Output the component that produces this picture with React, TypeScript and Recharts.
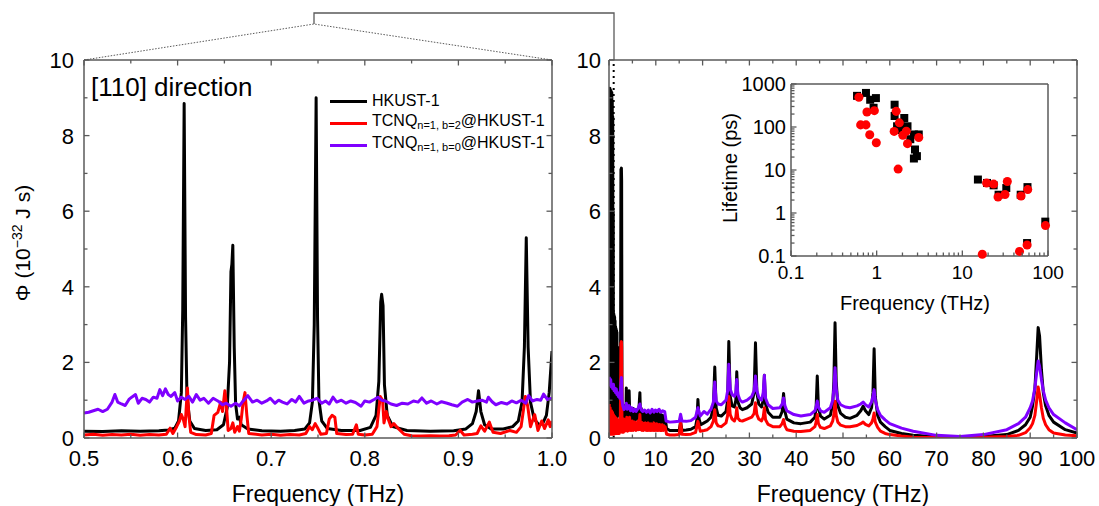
import React from "react";
import { LineChart, Line, XAxis, YAxis, ReferenceLine, ScatterChart, Scatter, ZAxis } from "recharts";

// ---- data ---------------------------------------------------------------

// left panel, [110] direction, 0.5–1.0 THz  ([frequency THz, Φ])
const leftHkust = [
  [0.5, 0.18], [0.52, 0.17], [0.54, 0.19], [0.56, 0.18], [0.58, 0.19], [0.59, 0.21], [0.597, 0.26],
  [0.601, 0.45], [0.604, 1.2], [0.6055, 3.4], [0.607, 8.85], [0.6085, 3.2], [0.61, 1.1], [0.613, 0.45],
  [0.618, 0.25], [0.63, 0.2], [0.642, 0.22], [0.649, 0.35], [0.653, 0.8], [0.6555, 2.0], [0.657, 4.4],
  [0.658, 4.6], [0.659, 5.1], [0.6605, 2.4], [0.662, 0.9], [0.664, 0.5], [0.666, 0.55], [0.668, 0.35],
  [0.675, 0.24], [0.69, 0.19], [0.71, 0.18], [0.725, 0.2], [0.736, 0.24], [0.741, 0.4], [0.744, 0.95],
  [0.746, 3.0], [0.748, 9.0], [0.7495, 3.2], [0.751, 1.0], [0.754, 0.45], [0.76, 0.25], [0.775, 0.2],
  [0.795, 0.2], [0.806, 0.28], [0.812, 0.6], [0.815, 1.5], [0.817, 3.6], [0.818, 3.8], [0.8195, 3.5],
  [0.821, 1.4], [0.824, 0.6], [0.83, 0.3], [0.845, 0.2], [0.87, 0.18], [0.895, 0.19], [0.908, 0.24],
  [0.915, 0.38], [0.919, 0.7], [0.9215, 1.25], [0.924, 0.7], [0.928, 0.35], [0.935, 0.24], [0.948, 0.24],
  [0.958, 0.3], [0.964, 0.45], [0.968, 0.95], [0.9705, 2.4], [0.9725, 5.3], [0.9745, 2.4], [0.977, 0.95],
  [0.981, 0.5], [0.986, 0.35], [0.99, 0.38], [0.994, 0.6], [0.997, 1.2], [1.0, 2.3],
];

const leftB2 = [
  [0.5, 0.08], [0.51, 0.1], [0.52, 0.07], [0.53, 0.09], [0.54, 0.08], [0.55, 0.1], [0.56, 0.07], [0.57, 0.09],
  [0.58, 0.08], [0.588, 0.1], [0.592, 0.26], [0.595, 0.12], [0.599, 0.3], [0.602, 0.45], [0.604, 0.62],
  [0.606, 0.5], [0.608, 0.3], [0.6105, 1.32], [0.612, 0.6], [0.614, 0.15], [0.62, 0.09], [0.63, 0.08],
  [0.636, 0.12], [0.639, 0.6], [0.643, 0.68], [0.646, 0.95], [0.648, 0.7], [0.6505, 1.25], [0.652, 0.9],
  [0.654, 0.2], [0.657, 0.25], [0.659, 0.4], [0.661, 0.15], [0.664, 0.3], [0.666, 0.18], [0.668, 0.5],
  [0.67, 0.95], [0.672, 1.2], [0.674, 0.6], [0.676, 0.12], [0.69, 0.08], [0.7, 0.1], [0.71, 0.07], [0.72, 0.09],
  [0.73, 0.08], [0.737, 0.12], [0.741, 0.3], [0.744, 0.22], [0.747, 0.38], [0.75, 0.25], [0.753, 0.1],
  [0.759, 0.12], [0.762, 0.5], [0.765, 0.6], [0.768, 0.55], [0.77, 0.12], [0.78, 0.09], [0.787, 0.1],
  [0.791, 0.35], [0.793, 0.1], [0.8, 0.08], [0.808, 0.1], [0.813, 0.3], [0.8165, 1.1], [0.819, 1.0],
  [0.8205, 0.4], [0.823, 0.7], [0.825, 0.5], [0.828, 0.3], [0.831, 0.38], [0.834, 0.3], [0.837, 0.22],
  [0.842, 0.1], [0.85, 0.06], [0.86, 0.05], [0.87, 0.06], [0.88, 0.05], [0.89, 0.06], [0.897, 0.08],
  [0.902, 0.2], [0.906, 0.08], [0.915, 0.1], [0.92, 0.12], [0.924, 0.32], [0.928, 0.18], [0.933, 0.42],
  [0.937, 0.15], [0.945, 0.12], [0.955, 0.2], [0.962, 0.15], [0.967, 0.3], [0.9715, 1.1], [0.974, 0.85],
  [0.977, 0.3], [0.9815, 0.62], [0.985, 0.2], [0.989, 0.45], [0.992, 0.25], [0.996, 0.48], [0.998, 0.3],
  [1.0, 0.45],
];

const leftB0 = [
  [0.5, 0.66], [0.505, 0.68], [0.51, 0.72], [0.515, 0.76], [0.52, 0.7], [0.525, 0.76], [0.53, 0.95],
  [0.533, 1.15], [0.536, 0.95], [0.54, 0.9], [0.544, 0.86], [0.548, 1.02], [0.551, 1.08], [0.555, 1.15],
  [0.558, 0.92], [0.562, 1.05], [0.566, 1.02], [0.57, 0.95], [0.574, 1.08], [0.578, 1.05], [0.581, 1.28],
  [0.584, 1.12], [0.587, 1.3], [0.59, 1.15], [0.593, 1.1], [0.597, 1.2], [0.6, 0.98], [0.604, 1.08],
  [0.608, 1.02], [0.612, 1.1], [0.616, 0.95], [0.62, 1.15], [0.624, 1.0], [0.628, 1.05], [0.633, 0.92],
  [0.638, 1.05], [0.643, 0.98], [0.648, 0.88], [0.652, 0.92], [0.657, 0.84], [0.662, 0.92], [0.666, 0.85],
  [0.67, 0.98], [0.675, 1.12], [0.68, 0.95], [0.685, 1.0], [0.69, 0.92], [0.695, 0.98], [0.699, 1.05],
  [0.704, 0.92], [0.708, 1.0], [0.712, 0.95], [0.717, 0.9], [0.722, 1.02], [0.726, 0.95], [0.73, 1.1],
  [0.735, 0.92], [0.74, 0.98], [0.744, 1.0], [0.749, 1.05], [0.754, 0.92], [0.758, 0.98], [0.762, 0.9],
  [0.766, 1.08], [0.77, 0.95], [0.775, 1.0], [0.78, 0.92], [0.785, 0.98], [0.79, 0.94], [0.796, 0.84],
  [0.8, 0.98], [0.805, 0.95], [0.81, 1.02], [0.814, 1.08], [0.818, 1.0], [0.822, 0.98], [0.828, 0.9],
  [0.834, 0.86], [0.84, 0.92], [0.846, 0.9], [0.852, 0.98], [0.857, 0.95], [0.861, 1.06], [0.866, 0.92],
  [0.871, 0.98], [0.877, 0.9], [0.882, 0.96], [0.888, 0.92], [0.893, 0.88], [0.899, 0.84], [0.904, 0.95],
  [0.91, 1.02], [0.915, 0.95], [0.92, 0.98], [0.925, 1.0], [0.93, 0.95], [0.932, 1.08], [0.936, 0.96],
  [0.94, 0.88], [0.946, 0.94], [0.952, 0.9], [0.957, 0.98], [0.962, 0.93], [0.967, 1.0], [0.972, 0.92],
  [0.975, 1.12], [0.979, 0.98], [0.984, 1.02], [0.988, 1.0], [0.991, 1.16], [0.995, 1.02], [1.0, 1.05],
];

// right panel, full spectrum 0–100 THz (dense, noisy band below ~12 THz)
const rightHkust = [
  [0.05, 1.5], [0.1, 9.2], [0.15, 0.6], [0.2, 9.25], [0.25, 0.55], [0.3, 9.1], [0.35, 0.6], [0.4, 9.2],
  [0.45, 0.65], [0.5, 9.0], [0.55, 0.6], [0.6, 9.15], [0.65, 0.6], [0.7, 8.9], [0.75, 0.55], [0.8, 8.5],
  [0.85, 0.6], [0.9, 6.0], [0.95, 0.6], [1.0, 3.3], [1.05, 0.55], [1.1, 3.25], [1.15, 0.6], [1.2, 3.2],
  [1.25, 0.6], [1.3, 3.1], [1.35, 0.55], [1.4, 2.95], [1.45, 0.6], [1.5, 2.9], [1.55, 0.6], [1.6, 2.85],
  [1.65, 0.6], [1.7, 2.8], [1.75, 0.55], [1.8, 2.4], [1.85, 0.6], [1.9, 2.4], [1.95, 0.6], [2.0, 2.35],
  [2.05, 0.6], [2.1, 2.3], [2.15, 0.6], [2.2, 1.5], [2.25, 0.6], [2.3, 1.45], [2.35, 0.6], [2.4, 1.2],
  [2.45, 0.6], [2.55, 7.1], [2.65, 7.14], [2.7, 6.8], [2.78, 0.6], [2.9, 0.9], [3.0, 0.55], [3.15, 0.85],
  [3.3, 0.5], [3.45, 0.8], [3.6, 0.55], [3.7, 1.32], [3.8, 0.55], [3.95, 0.85], [4.1, 0.5], [4.3, 1.25],
  [4.45, 0.5], [4.6, 0.8], [4.75, 0.5], [4.9, 0.75], [5.05, 0.48], [5.2, 0.78], [5.35, 0.5], [5.5, 0.7],
  [5.65, 0.48], [5.8, 0.75], [5.95, 0.5], [6.1, 0.72], [6.25, 0.5], [6.4, 0.8], [6.6, 1.2], [6.75, 0.5],
  [6.9, 0.78], [7.05, 0.48], [7.2, 0.7], [7.35, 0.45], [7.5, 0.68], [7.65, 0.45], [7.8, 0.7], [7.95, 0.45],
  [8.1, 0.66], [8.25, 0.42], [8.4, 0.68], [8.55, 0.44], [8.7, 0.65], [8.85, 0.42], [9.0, 0.7], [9.15, 0.42],
  [9.3, 0.64], [9.45, 0.4], [9.6, 0.66], [9.75, 0.42], [9.9, 0.7], [10.05, 0.4], [10.2, 0.62], [10.35, 0.4],
  [10.5, 0.66], [10.65, 0.4], [10.8, 0.6], [10.95, 0.38], [11.1, 0.62], [11.25, 0.38], [11.4, 0.6], [11.55, 0.38],
  [11.7, 0.58], [11.85, 0.4], [12.0, 0.55], [12.3, 0.25],
  [13, 0.2], [14, 0.2], [15, 0.2], [15.3, 0.42], [15.6, 0.2], [16.5, 0.21], [17.5, 0.23], [18.5, 0.3],
  [18.8, 0.5], [19.0, 1.02], [19.25, 0.5], [19.6, 0.35], [20.3, 0.4], [21, 0.45], [21.8, 0.55], [22.3, 0.8],
  [22.6, 1.88], [22.9, 0.8], [23.3, 0.6], [24, 0.58], [25, 0.7], [25.35, 1.0], [25.6, 2.55], [25.9, 1.1],
  [26.3, 0.85], [26.8, 0.82], [27.1, 1.0], [27.3, 1.75], [27.55, 0.95], [28, 0.8], [28.5, 0.75], [29.5, 0.8],
  [30.5, 0.9], [31.0, 1.2], [31.3, 2.52], [31.6, 1.2], [32.0, 0.9], [32.6, 0.82], [32.95, 1.0], [33.2, 1.66],
  [33.45, 0.9], [34, 0.68], [35, 0.55], [36.5, 0.55], [37.0, 0.7], [37.3, 1.18], [37.6, 0.7], [38, 0.5],
  [39.5, 0.4], [41, 0.38], [43, 0.42], [44, 0.55], [44.25, 0.8], [44.5, 1.64], [44.75, 0.8], [45.2, 0.58],
  [46, 0.5], [47.3, 0.6], [47.8, 0.9], [48.05, 1.5], [48.3, 3.05], [48.55, 1.5], [48.9, 0.85], [49.5, 0.65],
  [50.5, 0.55], [51.5, 0.52], [53, 0.6], [53.8, 0.72], [54.3, 0.84], [54.8, 0.72], [55.5, 0.62], [56.1, 0.8],
  [56.4, 1.2], [56.65, 2.36], [56.9, 1.1], [57.4, 0.6], [58, 0.42], [59, 0.3], [60, 0.2], [62.5, 0.12],
  [65, 0.07], [70, 0.03], [75, 0.03], [80, 0.04], [85, 0.09], [87.5, 0.2], [89, 0.35], [90, 0.55],
  [90.5, 0.85], [91.0, 1.3], [91.4, 2.2], [91.7, 2.92], [92.0, 2.7], [92.4, 1.8], [92.8, 1.2], [93.3, 0.85],
  [94, 0.6], [95, 0.42], [97.5, 0.22], [100, 0.13],
];

const rightB2 = [
  [0.05, 0.9], [0.1, 0.1], [0.15, 0.75], [0.2, 0.12], [0.25, 0.8], [0.3, 0.1], [0.35, 0.7], [0.4, 0.12],
  [0.45, 0.65], [0.5, 0.1], [0.55, 0.72], [0.6, 0.12], [0.65, 0.6], [0.7, 0.1], [0.75, 0.68], [0.8, 0.12],
  [0.85, 0.55], [0.9, 0.1], [0.95, 0.62], [1.0, 0.12], [1.05, 0.5], [1.1, 0.1], [1.15, 0.58], [1.2, 0.12],
  [1.25, 0.5], [1.3, 0.14], [1.35, 0.55], [1.4, 0.12], [1.45, 0.48], [1.5, 0.14], [1.55, 0.52], [1.6, 0.12],
  [1.65, 0.45], [1.7, 0.14], [1.75, 0.5], [1.8, 0.12], [1.85, 0.42], [1.9, 0.15], [1.95, 0.48], [2.0, 0.12],
  [2.05, 0.4], [2.1, 0.15], [2.15, 0.45], [2.2, 0.12], [2.25, 0.4], [2.3, 0.15], [2.35, 0.42], [2.4, 0.15],
  [2.55, 2.5], [2.65, 2.55], [2.7, 2.4], [2.78, 0.15], [2.9, 0.45], [3.05, 0.15], [3.2, 0.5], [3.35, 0.18],
  [3.5, 0.45], [3.65, 0.2], [3.8, 0.55], [3.95, 0.18], [4.1, 0.45], [4.25, 0.2], [4.4, 0.55], [4.55, 0.2],
  [4.7, 0.42], [4.85, 0.2], [5.0, 0.45], [5.15, 0.2], [5.3, 0.4], [5.45, 0.22], [5.6, 0.42], [5.75, 0.2],
  [5.9, 0.4], [6.05, 0.22], [6.2, 0.45], [6.35, 0.22], [6.6, 0.62], [6.75, 0.22], [6.9, 0.42], [7.05, 0.2],
  [7.2, 0.4], [7.35, 0.2], [7.5, 0.38], [7.65, 0.22], [7.8, 0.4], [7.95, 0.2], [8.1, 0.38], [8.25, 0.2],
  [8.4, 0.4], [8.55, 0.2], [8.7, 0.36], [8.85, 0.2], [9.0, 0.38], [9.15, 0.2], [9.3, 0.36], [9.45, 0.2],
  [9.6, 0.4], [9.75, 0.2], [9.9, 0.36], [10.05, 0.2], [10.2, 0.38], [10.35, 0.2], [10.5, 0.35], [10.65, 0.2],
  [10.8, 0.36], [10.95, 0.2], [11.1, 0.34], [11.25, 0.2], [11.4, 0.35], [11.55, 0.2], [11.7, 0.32], [11.85, 0.22],
  [12.0, 0.3], [12.3, 0.1], [13, 0.08], [14, 0.08], [15, 0.09], [15.3, 0.44], [15.6, 0.1], [16.5, 0.09],
  [17.5, 0.1], [18.5, 0.15], [19.0, 0.44], [19.5, 0.18], [20.3, 0.2], [21, 0.22], [21.8, 0.3], [22.3, 0.45],
  [22.6, 0.75], [22.9, 0.4], [23.3, 0.32], [24, 0.3], [25, 0.4], [25.35, 0.6], [25.6, 1.1], [25.9, 0.62],
  [26.3, 0.5], [26.8, 0.45], [27.1, 0.55], [27.3, 0.8], [27.55, 0.52], [28, 0.46], [28.5, 0.45], [29.5, 0.5],
  [30.5, 0.55], [31.0, 0.65], [31.3, 0.93], [31.6, 0.62], [32, 0.5], [32.6, 0.45], [32.95, 0.55], [33.2, 0.8],
  [33.45, 0.48], [34, 0.36], [35, 0.3], [36.5, 0.3], [37, 0.38], [37.3, 0.49], [37.6, 0.32], [38, 0.22],
  [39.5, 0.18], [41, 0.17], [43, 0.2], [44, 0.3], [44.25, 0.42], [44.5, 0.62], [44.75, 0.38], [45.2, 0.28],
  [46, 0.25], [47.3, 0.32], [47.8, 0.45], [48.05, 0.62], [48.3, 0.97], [48.55, 0.6], [48.9, 0.42], [49.5, 0.34],
  [50.5, 0.3], [51.5, 0.3], [53, 0.33], [53.8, 0.38], [54.3, 0.42], [54.8, 0.36], [55.5, 0.32], [56.1, 0.4],
  [56.4, 0.5], [56.65, 0.66], [56.9, 0.42], [57.4, 0.28], [58, 0.18], [59, 0.12], [60, 0.09], [62.5, 0.05],
  [65, 0.02], [70, 0.01], [75, 0.01], [80, 0.02], [85, 0.04], [87.5, 0.07], [89, 0.14], [90, 0.27],
  [90.5, 0.38], [91, 0.6], [91.4, 1.0], [91.7, 1.35], [92, 1.15], [92.4, 0.8], [92.8, 0.52], [93.3, 0.35],
  [94, 0.22], [95, 0.13], [97.5, 0.08], [100, 0.06],
];

const rightB0 = [
  [0.05, 1.62], [0.2, 1.4], [0.35, 1.55], [0.5, 1.35], [0.65, 1.42], [0.8, 1.3], [0.95, 1.42], [1.1, 1.25],
  [1.25, 1.32], [1.4, 1.2], [1.55, 1.3], [1.7, 1.15], [1.85, 1.2], [2.0, 1.1], [2.15, 1.15], [2.3, 1.05],
  [2.55, 1.45], [2.65, 1.6], [2.78, 1.0], [2.95, 0.85], [3.2, 0.75], [3.5, 0.8], [3.7, 0.92], [3.9, 0.76],
  [4.3, 0.86], [4.6, 0.72], [4.9, 0.8], [5.2, 0.7], [5.5, 0.76], [5.8, 0.7], [6.2, 0.78], [6.6, 0.9],
  [6.9, 0.74], [7.2, 0.7], [7.6, 0.74], [8, 0.68], [8.4, 0.74], [8.8, 0.66], [9.2, 0.76], [9.6, 0.68],
  [9.9, 0.74], [10.3, 0.7], [10.7, 0.76], [11.1, 0.68], [11.5, 0.72], [11.9, 0.7], [12.2, 0.45], [13, 0.42],
  [14, 0.43], [15, 0.44], [15.3, 0.63], [15.6, 0.45], [16.5, 0.44], [17.5, 0.46], [18.5, 0.55], [19, 0.8],
  [19.5, 0.58], [20.3, 0.7], [21, 0.63], [21.8, 0.76], [22.3, 0.95], [22.6, 1.48], [22.9, 0.98], [23.3, 0.9],
  [24, 0.88], [25, 1.0], [25.35, 1.25], [25.6, 1.95], [25.9, 1.3], [26.3, 1.15], [26.8, 1.1], [27.1, 1.2],
  [27.3, 1.55], [27.55, 1.15], [28, 1.0], [28.5, 0.95], [29.5, 1.0], [30.5, 1.1], [31.0, 1.25], [31.3, 1.64],
  [31.6, 1.25], [32, 1.08], [32.6, 1.0], [32.95, 1.2], [33.2, 1.66], [33.45, 1.05], [34, 0.88], [35, 0.78],
  [36.5, 0.8], [37, 0.9], [37.3, 1.06], [37.6, 0.85], [38, 0.72], [39.5, 0.62], [41, 0.58], [43, 0.62],
  [44, 0.72], [44.25, 0.82], [44.5, 0.98], [44.75, 0.82], [45.2, 0.72], [46, 0.68], [47.3, 0.8], [47.8, 1.0],
  [48.05, 1.3], [48.3, 1.86], [48.55, 1.3], [48.9, 1.0], [49.5, 0.88], [50.5, 0.82], [51.5, 0.8], [53, 0.85],
  [53.8, 0.9], [54.3, 0.95], [54.8, 0.88], [55.5, 0.82], [56.1, 0.95], [56.4, 1.1], [56.65, 1.28], [56.9, 1.0],
  [57.4, 0.75], [58, 0.6], [59, 0.48], [60, 0.38], [62.5, 0.26], [65, 0.18], [70, 0.07], [75, 0.04],
  [80, 0.09], [85, 0.22], [87.5, 0.38], [89, 0.55], [90, 0.8], [90.5, 0.98], [91, 1.33], [91.4, 1.75],
  [91.7, 2.04], [92, 1.9], [92.4, 1.55], [92.8, 1.25], [93.3, 1.0], [94, 0.8], [95, 0.62], [97.5, 0.4],
  [100, 0.22],
];

// inset: phonon lifetime (ps) vs frequency (THz)
const lifetimeHkust = [
  [0.59, 530], [0.75, 620], [0.84, 430], [0.98, 470], [0.92, 280], [1.62, 330], [1.62, 180], [1.73, 104],
  [1.89, 115], [1.94, 85], [2.1, 162], [2.29, 104], [2.47, 52], [2.72, 67], [3.1, 67], [2.8, 30],
  [2.95, 21], [2.72, 18.5], [15.2, 6.0], [19.4, 5.0], [23.2, 4.4], [26.5, 2.66], [32.6, 3.8], [48, 2.66],
  [57.6, 4.0], [93, 0.63], [57, 0.2],
];

const lifetimeB2 = [
  [0.62, 493], [0.65, 112], [0.75, 112], [0.77, 223], [0.83, 66], [0.94, 240], [0.99, 43], [1.6, 79],
  [1.69, 231], [1.84, 125], [1.78, 10.5], [2.02, 64], [2.22, 80], [2.29, 41], [3.1, 57], [19.2, 5.0],
  [23.2, 4.7], [26.1, 2.35], [31.5, 2.7], [33.5, 5.4], [48.5, 2.48], [58, 3.5], [93.5, 0.51], [17.1, 0.11],
  [46.5, 0.128], [57, 0.18],
];

// tick positions
const leftXTicks = [0.5, 0.55, 0.6, 0.65, 0.7, 0.75, 0.8, 0.85, 0.9, 0.95, 1.0];
const leftXLabels = [0.5, 0.6, 0.7, 0.8, 0.9, 1.0];
const rightXTicks = [0, 5, 10, 15, 20, 25, 30, 35, 40, 45, 50, 55, 60, 65, 70, 75, 80, 85, 90, 95, 100];
const rightXLabels = [0, 10, 20, 30, 40, 50, 60, 70, 80, 90, 100];
const phiTicks = [0, 1, 2, 3, 4, 5, 6, 7, 8, 9, 10];
const phiLabels = [0, 2, 4, 6, 8, 10];
const insetXTicks = [0.1, 0.2, 0.3, 0.4, 0.5, 0.6, 0.7, 0.8, 0.9, 1, 2, 3, 4, 5, 6, 7, 8, 9, 10, 20, 30, 40, 50, 60, 70, 80, 90, 100];
const insetXLabels = [0.1, 1, 10, 100];
const insetYTicks = [0.1, 0.2, 0.3, 0.4, 0.5, 0.6, 0.7, 0.8, 0.9, 1, 2, 3, 4, 5, 6, 7, 8, 9, 10, 20, 30, 40, 50, 60, 70, 80, 90, 100, 200, 300, 400, 500, 600, 700, 800, 900, 1000];
const insetYLabels = [0.1, 1, 10, 100, 1000];

// ---- styling --------------------------------------------------------------

const FONT = "'Liberation Sans', Arial, Helvetica, sans-serif";
const FRAME = "#5a5a5a";
const C_HKUST = "#000000";
const C_B2 = "#ff0000";
const C_B0 = "#7f00ff";

const pts = (arr: number[][]) => arr.map(([f, v]) => ({ f, v }));

type Side = "bottom" | "top" | "left" | "right";

// inward tick marks (longer on labelled values) plus the label itself
function makeTick(side: Side, majors: number[], labels: boolean, fontSize = 22, gap = 6, fmt = (v: number) => String(v)) {
  return (props: any) => {
    const { x, y, payload } = props;
    const v = Number(payload.value);
    const major = majors.some((m) => Math.abs(m - v) < 1e-6 * Math.max(1, Math.abs(m)));
    const len = major ? 5.5 : 3.5;
    const dx = side === "left" ? len : side === "right" ? -len : 0;
    const dy = side === "bottom" ? -len : side === "top" ? len : 0;
    let label = null;
    if (labels && major && side === "bottom") {
      label = (
        <text x={x} y={y + fontSize + gap} textAnchor="middle" fontSize={fontSize} fontFamily={FONT} fill="#000">
          {fmt(v)}
        </text>
      );
    }
    if (labels && major && side === "left") {
      label = (
        <text x={x - gap} y={y + fontSize * 0.36} textAnchor="end" fontSize={fontSize} fontFamily={FONT} fill="#000">
          {fmt(v)}
        </text>
      );
    }
    return (
      <g>
        <line x1={x} y1={y} x2={x + dx} y2={y + dy} stroke={FRAME} strokeWidth={1.3} />
        {label}
      </g>
    );
  };
}

const axisLine = { stroke: FRAME, strokeWidth: 1.5 };
const lineProps = {
  xAxisId: "b",
  yAxisId: "l",
  dataKey: "v",
  type: "linear" as const,
  dot: false,
  strokeWidth: 3,
  strokeLinejoin: "round" as const,
  isAnimationActive: false,
};

const LEGEND = [
  { color: C_HKUST, name: "HKUST-1", sub: "", tail: "" },
  { color: C_B2, name: "TCNQ", sub: "n=1, b=2", tail: "@HKUST-1" },
  { color: C_B0, name: "TCNQ", sub: "n=1, b=0", tail: "@HKUST-1" },
];

export default function App() {
  const fmt1 = (v: number) => v.toFixed(1);
  return (
    <div style={{ position: "absolute", left: 0, top: 0, width: 1099, height: 506, background: "#fff", fontFamily: FONT, overflow: "hidden" }}>
      {/* left panel: zoom on 0.5–1 THz */}
      <div style={{ position: "absolute", left: 0, top: 0 }}>
        <LineChart width={580} height={506} margin={{ top: 55, right: 26, bottom: 0, left: 0 }}>
          <XAxis xAxisId="b" type="number" dataKey="f" domain={[0.5, 1]} allowDataOverflow ticks={leftXTicks} interval={0}
            height={68} tickSize={0} tickMargin={0} tickLine={false} axisLine={axisLine} tick={makeTick("bottom", leftXLabels, true, 22, 6, fmt1)} />
          <XAxis xAxisId="t" orientation="top" type="number" dataKey="f" domain={[0.5, 1]} allowDataOverflow ticks={leftXTicks} interval={0}
            height={5} tickSize={0} tickMargin={0} tickLine={false} axisLine={axisLine} tick={makeTick("top", leftXLabels, false)} />
          <YAxis yAxisId="l" type="number" domain={[0, 10]} allowDataOverflow ticks={phiTicks} interval={0}
            width={84} tickSize={0} tickMargin={0} tickLine={false} axisLine={axisLine} tick={makeTick("left", phiLabels, true, 22, 10)} />
          <YAxis yAxisId="r" orientation="right" type="number" domain={[0, 10]} allowDataOverflow ticks={phiTicks} interval={0}
            width={2} tickSize={0} tickMargin={0} tickLine={false} axisLine={axisLine} tick={makeTick("right", phiLabels, false)} />
          <Line {...lineProps} data={pts(leftHkust)} stroke={C_HKUST} name="HKUST-1" />
          <Line {...lineProps} data={pts(leftB2)} stroke={C_B2} name="b2" />
          <Line {...lineProps} data={pts(leftB0)} stroke={C_B0} name="b0" />
        </LineChart>
      </div>

      {/* right panel: full range */}
      <div style={{ position: "absolute", left: 560, top: 0 }}>
        <LineChart width={539} height={506} margin={{ top: 55, right: 20, bottom: 0, left: 0 }}>
          <XAxis xAxisId="b" type="number" dataKey="f" domain={[0, 100]} allowDataOverflow ticks={rightXTicks} interval={0}
            height={68} tickSize={0} tickMargin={0} tickLine={false} axisLine={axisLine} tick={makeTick("bottom", rightXLabels, true, 22, 6)} />
          <XAxis xAxisId="t" orientation="top" type="number" dataKey="f" domain={[0, 100]} allowDataOverflow ticks={rightXTicks} interval={0}
            height={5} tickSize={0} tickMargin={0} tickLine={false} axisLine={axisLine} tick={makeTick("top", rightXLabels, false)} />
          <YAxis yAxisId="l" type="number" domain={[0, 10]} allowDataOverflow ticks={phiTicks} interval={0}
            width={49} tickSize={0} tickMargin={0} tickLine={false} axisLine={axisLine} tick={makeTick("left", phiLabels, true, 22, 8)} />
          <YAxis yAxisId="r" orientation="right" type="number" domain={[0, 10]} allowDataOverflow ticks={phiTicks} interval={0}
            width={2} tickSize={0} tickMargin={0} tickLine={false} axisLine={axisLine} tick={makeTick("right", phiLabels, false)} />
          <ReferenceLine xAxisId="b" yAxisId="l" x={1} stroke="#000" strokeWidth={2} strokeDasharray="2 4" />
          <Line {...lineProps} data={pts(rightHkust)} stroke={C_HKUST} name="HKUST-1" />
          <Line {...lineProps} data={pts(rightB2)} stroke={C_B2} name="b2" />
          <Line {...lineProps} data={pts(rightB0)} stroke={C_B0} name="b0" />
        </LineChart>
      </div>

      {/* inset: lifetimes, log–log */}
      <div style={{ position: "absolute", left: 700, top: 70 }}>
        <ScatterChart width={370} height={250} margin={{ top: 9, right: 20, bottom: 24, left: 31 }}>
          <XAxis xAxisId="b" type="number" dataKey="f" scale="log" domain={[0.1, 100]} ticks={insetXTicks} interval={0}
            height={40} tickSize={0} tickMargin={0} tickLine={false} axisLine={axisLine} tick={makeTick("bottom", insetXLabels, true, 19, 4)} />
          <XAxis xAxisId="t" orientation="top" type="number" dataKey="f" scale="log" domain={[0.1, 100]} ticks={insetXTicks} interval={0}
            height={5} tickSize={0} tickMargin={0} tickLine={false} axisLine={axisLine} tick={makeTick("top", insetXLabels, false)} />
          <YAxis yAxisId="l" type="number" dataKey="t" scale="log" domain={[0.1, 1000]} ticks={insetYTicks} interval={0}
            width={60} tickSize={0} tickMargin={0} tickLine={false} axisLine={axisLine} tick={makeTick("left", insetYLabels, true, 20, 5)} />
          <YAxis yAxisId="r" orientation="right" type="number" dataKey="t" scale="log" domain={[0.1, 1000]} ticks={insetYTicks} interval={0}
            width={2} tickSize={0} tickMargin={0} tickLine={false} axisLine={axisLine} tick={makeTick("right", insetYLabels, false)} />
          <ZAxis range={[48, 48]} />
          <Scatter xAxisId="b" yAxisId="l" data={lifetimeHkust.map(([f, t]) => ({ f, t }))} fill={C_HKUST} shape="square" isAnimationActive={false} />
          <Scatter xAxisId="b" yAxisId="l" data={lifetimeB2.map(([f, t]) => ({ f, t }))} fill={C_B2} shape="circle" isAnimationActive={false} />
        </ScatterChart>
      </div>

      {/* legend */}
      <div style={{ position: "absolute", left: 330, top: 90, fontSize: 16, color: "#000", lineHeight: "20px" }}>
        {LEGEND.map((it, i) => (
          <div key={i} style={{ display: "flex", alignItems: "center", height: 22, whiteSpace: "nowrap" }}>
            <span style={{ display: "inline-block", width: 37, height: 3, background: it.color, marginRight: 5 }} />
            <span>
              {it.name}
              {it.sub && <sub style={{ fontSize: 11, verticalAlign: "-3px" }}>{it.sub}</sub>}
              {it.tail}
            </span>
          </div>
        ))}
      </div>

      {/* titles and zoom connector */}
      <svg width={1099} height={506} style={{ position: "absolute", left: 0, top: 0, pointerEvents: "none" }} fontFamily={FONT}>
        <polyline points="84,60 314,24 552,60" fill="none" stroke={FRAME} strokeWidth={1} strokeDasharray="1.5 1.5" />
        <polyline points="314,24 314,13 614,13 614,60" fill="none" stroke={FRAME} strokeWidth={1.3} />
        <text x={91} y={96} fontSize={26} fill="#000">[110] direction</text>
        <text x={318} y={502} fontSize={23} textAnchor="middle" fill="#000">Frequency (THz)</text>
        <text x={843} y={502} fontSize={23} textAnchor="middle" fill="#000">Frequency (THz)</text>
        <text transform="translate(30,243) rotate(-90)" fontSize={21} textAnchor="middle" fill="#000">
          {"\u03A6 (10"}
          <tspan dy={-8} fontSize={14}>{"\u221232"}</tspan>
          <tspan dy={8}>{" J s)"}</tspan>
        </text>
        <text transform="translate(737,168) rotate(-90)" fontSize={20} textAnchor="middle" fill="#000">Lifetime (ps)</text>
        <text x={915} y={310} fontSize={20} textAnchor="middle" fill="#000">Frequency (THz)</text>
      </svg>
    </div>
  );
}
